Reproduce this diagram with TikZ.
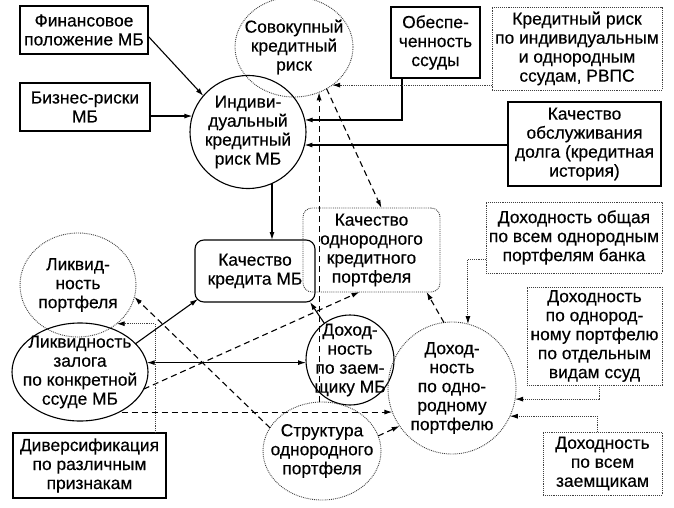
\documentclass[tikz,border=0pt]{standalone}
\usepackage{fontspec}
\setmainfont{Liberation Sans}[FakeBold=0.35]
\usetikzlibrary{arrows.meta,shapes.geometric,calc}
\begin{document}
\begin{tikzpicture}[x=1pt,y=-1pt,
  every node/.style={font=\fontsize{17.4}{19}\selectfont, align=center, outer sep=0pt},
  sbox/.style={draw, line width=1.1pt, rectangle, inner sep=1pt},
  dbox/.style={draw=black!75, line width=0.9pt, densely dotted, rectangle, inner sep=1pt},
  srbox/.style={sbox, rounded corners=9pt},
  drbox/.style={dbox, rounded corners=9pt},
  sell/.style={draw, line width=1.1pt, ellipse, inner sep=-40pt},
  dell/.style={draw=black!75, line width=0.9pt, densely dotted, ellipse, inner sep=-40pt},
  arr/.style={line width=1.1pt, -{Latex[length=8pt,width=5pt]}},
  dblarr/.style={line width=1.1pt, {Latex[length=8pt,width=5pt]}-{Latex[length=8pt,width=5pt]}},
  darr/.style={arr, dash pattern=on 6pt off 4pt},
  oarr/.style={line width=0.9pt, black!75, densely dotted, -{Latex[length=8pt,width=5pt,black]}},
]
\useasboundingbox (0,0) rectangle (674,508);

% boxes
\node[sbox, minimum width=128pt, minimum height=48pt] (fin) at (84,30) {Финансовое\\положение МБ};
\node[sbox, minimum width=130pt, minimum height=48pt] (biz) at (85,107) {Бизнес-риски\\МБ};
\node[sbox, minimum width=89pt, minimum height=71pt] (obesp) at (435.5,42.5) {Обеспе-\\ченность\\ссуды};
\node[dbox, minimum width=170pt, minimum height=83pt] (kred) at (577,48.5) {Кредитный риск\\по индивидуальным\\и однородным\\ссудам, РВПС};
\node[sbox, minimum width=153pt, minimum height=84pt] (kachobs) at (584.5,144) {Качество\\обслуживания\\долга (кредитная\\история)};
\node[srbox, minimum width=120pt, minimum height=62pt] (kachkr) at (255,271) {Качество\\кредита МБ};
\node[drbox, minimum width=137pt, minimum height=84pt] (kachodn) at (371.5,250) {Качество\\однородного\\кредитного\\портфеля};
\node[dbox, minimum width=176pt, minimum height=71pt] (dohobsh) at (574,237.5) {Доходность общая\\по всем однородным\\портфелям банка};
\node[dbox, minimum width=135pt, minimum height=98pt] (dohvid) at (594.5,336) {Доходность\\по однород-\\ному портфелю\\по отдельным\\видам ссуд};
\node[dbox, minimum width=119pt, minimum height=63pt] (dohall) at (602.5,463.5) {Доходность\\по всем\\заемщикам};
\node[sbox, minimum width=153pt, minimum height=65pt] (divers) at (89.5,465.5) {Диверсификация\\по различным\\признакам};

% ellipses
\node[dell, minimum width=118pt, minimum height=100pt] (sovok) at (294,47) {Совокупный\\кредитный\\риск};
\node[sell, minimum width=116pt, minimum height=113pt] (indiv) at (248,132) {Индиви-\\дуальный\\кредитный\\риск МБ};
\node[dell, minimum width=116pt, minimum height=104pt] (liqport) at (78,285) {Ликвид-\\ность\\портфеля};
\node[sell, minimum width=136pt, minimum height=98pt] (zalog) at (80,372) {Ликвидность\\залога\\по конкретной\\ссуде МБ};
\node[sell, minimum width=88pt, minimum height=90pt] (dohzaem) at (350,360) {Доход-\\ность\\по заем-\\щику МБ};
\node[dell, minimum width=128pt, minimum height=132pt] (dohodn) at (452,388) {Доход-\\ность\\по одно-\\родному\\портфелю};
\node[dell, minimum width=118pt, minimum height=98pt] (strukt) at (322,451) {Структура\\однородного\\портфеля};

% solid connectors
\draw[arr] ([yshift=-6pt]fin.east) -- (indiv.141);
\draw[arr] (biz.east |- indiv.164) -- (indiv.164);
\draw[arr] ([xshift=11pt]obesp.south west) |- (indiv.12);
\draw[arr] (kachobs.west |- indiv.-13) -- (indiv.-13);
\draw[arr] (indiv.-65) -- (indiv.-65 |- kachkr.north);
\draw[arr] (zalog.27) -- ([shift={(3pt,3pt)}]kachkr.south west);
\draw[arr] (dohzaem.125) -- ([xshift=-5pt]kachkr.south east);
\draw[dblarr] (zalog.8) -- (zalog.8 -| dohzaem.west);

% dashed connectors
\draw[darr] (sovok.-61 |- strukt.north) -- (sovok.-61);
\draw[darr] (sovok.-52) -- ([xshift=10pt]kachodn.north);
\draw[darr] (dohodn.97) -- ([xshift=55pt]kachodn.south);
\draw[darr] (zalog.-15) -- ([xshift=-12pt]kachodn.south);
\draw[darr] (strukt.156) -- (liqport.-12);
\draw[darr] (zalog.-43 |- dohodn.-158) -- (dohodn.-158);
\draw[darr] (strukt.15) -- (dohodn.-144);

% dotted connectors
\draw[oarr] (kred.west |- sovok.-45) -- (sovok.-45);
\draw[oarr] ([xshift=-11pt]divers.north east) |- (liqport.-45);
\draw[oarr] ([yshift=-22pt]dohobsh.west) -| (dohodn.76);
\draw[oarr] ([xshift=5pt]dohvid.south) |- (dohodn.-10);
\draw[oarr] ([xshift=-5pt]dohall.north) |- (dohodn.-26);
\end{tikzpicture}
\end{document}
